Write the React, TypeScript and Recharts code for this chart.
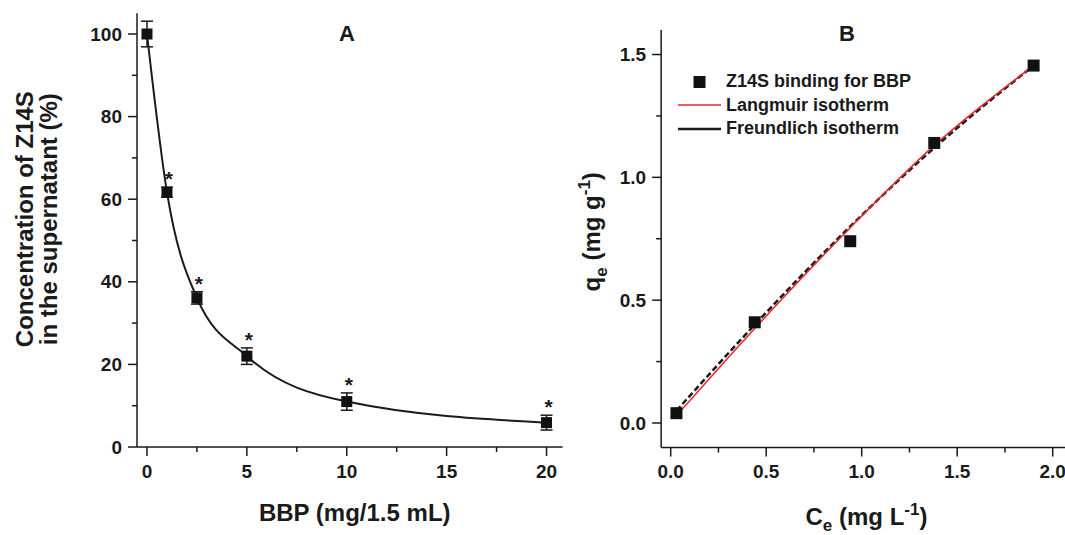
import React from "react";
import { ComposedChart, Line, Scatter, XAxis, YAxis, ErrorBar, Legend } from "recharts";

const FONT = '"Liberation Sans", Arial, Helvetica, sans-serif';
const INK = "#1a1a1a";
const RED = "#e8262a";

// panel A: Z14S left in the supernatant vs BBP dose
const BBP_DOSE = [0, 1, 2.5, 5, 10, 20];
const Z14S_PCT = [100, 61.7, 36.1, 22, 11, 5.9];
const Z14S_ERR = [3.1, 1.2, 1.5, 2, 2.1, 1.8];
const SIGNIFICANT = [false, true, true, true, true, true];
const A_X_MAJOR = [0, 5, 10, 15, 20];
const A_X_MINOR = [2.5, 7.5, 12.5, 17.5];
const A_Y_MAJOR = [0, 20, 40, 60, 80, 100];
const A_Y_MINOR = [10, 30, 50, 70, 90];

// panel B: binding isotherm
const CE = [0.03, 0.44, 0.94, 1.38, 1.9];
const QE = [0.04, 0.41, 0.74, 1.14, 1.455];
const LANGMUIR = [0.03, 0.385, 0.795, 1.13, 1.455];
const FREUNDLICH = [0.05, 0.4, 0.8, 1.12, 1.455];
const B_X_MAJOR = [0, 0.5, 1, 1.5, 2];
const B_X_MINOR = [0.25, 0.75, 1.25, 1.75];
const B_Y_MAJOR = [0, 0.5, 1, 1.5];
const B_Y_MINOR = [0.25, 0.75, 1.25];

const SERIES_B = ["Z14S binding for BBP", "Langmuir isotherm", "Freundlich isotherm"];

const tickText = { fontFamily: FONT, fontWeight: 700, fontSize: 19, fill: INK };
const titleText = { fontFamily: FONT, fontWeight: 700, fontSize: 24, fill: INK };

function BottomTick(props: any) {
  const { x, y, payload, major, fmt } = props;
  const isMajor = major.includes(payload.value);
  return (
    <g>
      <line x1={x} x2={x} y1={y} y2={y + (isMajor ? 9 : 5)} stroke={INK} strokeWidth={1.5} />
      {isMajor && (
        <text x={x} y={y + 24} dy="0.35em" textAnchor="middle" style={tickText}>
          {fmt(payload.value)}
        </text>
      )}
    </g>
  );
}

function LeftTick(props: any) {
  const { x, y, payload, major, fmt } = props;
  const isMajor = major.includes(payload.value);
  return (
    <g>
      <line x1={x} x2={x - (isMajor ? 9 : 5)} y1={y} y2={y} stroke={INK} strokeWidth={1.5} />
      {isMajor && (
        <text x={x - 15} y={y} dy="0.35em" textAnchor="end" style={tickText}>
          {fmt(payload.value)}
        </text>
      )}
    </g>
  );
}

const square = (side: number) => (p: any) =>
  <rect x={p.cx - side / 2} y={p.cy - side / 2} width={side} height={side} fill="#111" />;

const star = (p: any) => (
  <text x={p.cx + 2} y={p.cy - 1} textAnchor="middle" style={{ ...tickText, fontSize: 21 }}>*</text>
);

function TitleAX(props: any) {
  const { x, y, width } = props.viewBox;
  return (
    <text x={x + width / 2 + 5} y={y + 74} textAnchor="middle" style={titleText}>
      BBP (mg/1.5 mL)
    </text>
  );
}

function TitleAY(props: any) {
  const { x, y, height } = props.viewBox;
  const cy = y + height / 2 - 11;
  const l1 = x - 44;
  const l2 = x - 19.5;
  return (
    <g>
      <text transform={`rotate(-90 ${l1} ${cy})`} x={l1} y={cy} textAnchor="middle" style={titleText}>
        Concentration of Z14S
      </text>
      <text transform={`rotate(-90 ${l2} ${cy})`} x={l2} y={cy} textAnchor="middle" style={titleText}>
        in the supernatant (%)
      </text>
    </g>
  );
}

function TitleBX(props: any) {
  const { x, y, width } = props.viewBox;
  return (
    <text x={x + width / 2} y={y + 77} textAnchor="middle" style={titleText}>
      <tspan>C</tspan>
      <tspan dy={6} fontSize={17}>e</tspan>
      <tspan dy={-6}> (mg L</tspan>
      <tspan dy={-10} fontSize={17}>-1</tspan>
      <tspan dy={10}>)</tspan>
    </text>
  );
}

function TitleBY(props: any) {
  const { x, y, height } = props.viewBox;
  const cy = y + height / 2 - 7;
  const bx = x - 1;
  return (
    <text transform={`rotate(-90 ${bx} ${cy})`} x={bx} y={cy} textAnchor="middle" style={titleText}>
      <tspan>q</tspan>
      <tspan dy={7} fontSize={17}>e</tspan>
      <tspan dy={-7}> (mg g</tspan>
      <tspan dy={-10} fontSize={17}>-1</tspan>
      <tspan dy={10}>)</tspan>
    </text>
  );
}

function LegendB({ payload }: any) {
  const items = [...(payload || [])].sort(
    (a: any, b: any) => SERIES_B.indexOf(a.value) - SERIES_B.indexOf(b.value)
  );
  return (
    <div style={{ fontFamily: FONT, fontWeight: 700, fontSize: 18, color: INK }}>
      {items.map((it: any) => (
        <div key={it.value} style={{ display: "flex", alignItems: "center", height: 23.5 }}>
          <svg width={43} height={14} style={{ marginRight: 5 }}>
            {it.type === "square" ? (
              <rect x={15.5} y={1} width={12} height={12} fill="#111" />
            ) : (
              <line x1={0} x2={43} y1={7} y2={7} stroke={it.color} strokeWidth={it.color === RED ? 1.5 : 2.5} />
            )}
          </svg>
          <span style={{ whiteSpace: "nowrap" }}>{it.value}</span>
        </div>
      ))}
    </div>
  );
}

const letter = (left: number, txt: string) => (
  <div
    style={{
      position: "absolute", left, top: 34, transform: "translate(-50%, -50%)",
      fontFamily: FONT, fontWeight: 700, fontSize: 22, color: INK, lineHeight: 1,
    }}
  >
    {txt}
  </div>
);

export default function App() {
  const rowsA = BBP_DOSE.map((x, i) => ({ x, y: Z14S_PCT[i], err: Z14S_ERR[i] }));
  const starsA = BBP_DOSE.map((x, i) => ({ x, star: Z14S_PCT[i] + Z14S_ERR[i] })).filter((_, i) => SIGNIFICANT[i]);
  const rowsB = CE.map((x, i) => ({ x, qe: QE[i], lang: LANGMUIR[i], freu: FREUNDLICH[i] }));

  return (
    <div style={{ position: "absolute", left: 0, top: 0, width: 1065, height: 535, overflow: "hidden", background: "#fff" }}>
      <div style={{ position: "absolute", left: 0, top: 0 }}>
        <ComposedChart width={580} height={535} data={rowsA} margin={{ top: 13.35, right: 17.5, bottom: 28, left: 77 }}>
          <XAxis
            dataKey="x" type="number" domain={[-0.5, 20.8]} allowDataOverflow
            ticks={[...A_X_MAJOR, ...A_X_MINOR]} interval={0} height={60}
            tickSize={0} tickMargin={0} tickLine={false}
            axisLine={{ stroke: INK, strokeWidth: 1.5 }}
            tick={(p: any) => <BottomTick {...p} major={A_X_MAJOR} fmt={(v: number) => String(v)} />}
            label={(p: any) => <TitleAX {...p} />}
          />
          <YAxis
            type="number" domain={[0, 105]} allowDataOverflow
            ticks={[...A_Y_MAJOR, ...A_Y_MINOR]} interval={0} width={60}
            tickSize={0} tickMargin={0} tickLine={false}
            axisLine={{ stroke: INK, strokeWidth: 1.5 }}
            tick={(p: any) => <LeftTick {...p} major={A_Y_MAJOR} fmt={(v: number) => String(v)} />}
            label={(p: any) => <TitleAY {...p} />}
          />
          <Line dataKey="y" type="monotone" stroke={INK} strokeWidth={2} dot={false} activeDot={false} isAnimationActive={false} />
          <Scatter dataKey="y" shape={square(11)} isAnimationActive={false}>
            <ErrorBar dataKey="err" direction="y" width={6} stroke={INK} strokeWidth={1.5} />
          </Scatter>
          <Scatter data={starsA} dataKey="star" shape={star} isAnimationActive={false} />
        </ComposedChart>
      </div>

      <div style={{ position: "absolute", left: 560, top: 0 }}>
        <ComposedChart width={530} height={535} data={rowsB} margin={{ top: 29.96, right: 18.2, bottom: 27.44, left: 41.15 }}>
          <XAxis
            dataKey="x" type="number" domain={[-0.05, 2.1]} allowDataOverflow
            ticks={[...B_X_MAJOR, ...B_X_MINOR]} interval={0} height={60}
            tickSize={0} tickMargin={0} tickLine={false}
            axisLine={{ stroke: INK, strokeWidth: 1.5 }}
            tick={(p: any) => <BottomTick {...p} major={B_X_MAJOR} fmt={(v: number) => v.toFixed(1)} />}
            label={(p: any) => <TitleBX {...p} />}
          />
          <YAxis
            type="number" domain={[-0.1, 1.6]} allowDataOverflow
            ticks={[...B_Y_MAJOR, ...B_Y_MINOR]} interval={0} width={60}
            tickSize={0} tickMargin={0} tickLine={false}
            axisLine={{ stroke: INK, strokeWidth: 1.5 }}
            tick={(p: any) => <LeftTick {...p} major={B_Y_MAJOR} fmt={(v: number) => v.toFixed(1)} />}
            label={(p: any) => <TitleBY {...p} />}
          />
          <Legend
            layout="vertical" align="center" verticalAlign="middle"
            content={(p: any) => <LegendB {...p} />}
            wrapperStyle={{ left: 118, top: 70, width: "auto", height: "auto" }}
          />
          <Scatter name={SERIES_B[0]} dataKey="qe" legendType="square" fill="#111" shape={square(12)} isAnimationActive={false} />
          <Line name={SERIES_B[2]} dataKey="freu" type="monotone" stroke={INK} strokeWidth={2.5} strokeDasharray="6 3" dot={false} activeDot={false} isAnimationActive={false} />
          <Line name={SERIES_B[1]} dataKey="lang" type="monotone" stroke={RED} strokeWidth={1.5} dot={false} activeDot={false} isAnimationActive={false} />
        </ComposedChart>
      </div>

      {letter(347, "A")}
      {letter(847, "B")}
    </div>
  );
}
